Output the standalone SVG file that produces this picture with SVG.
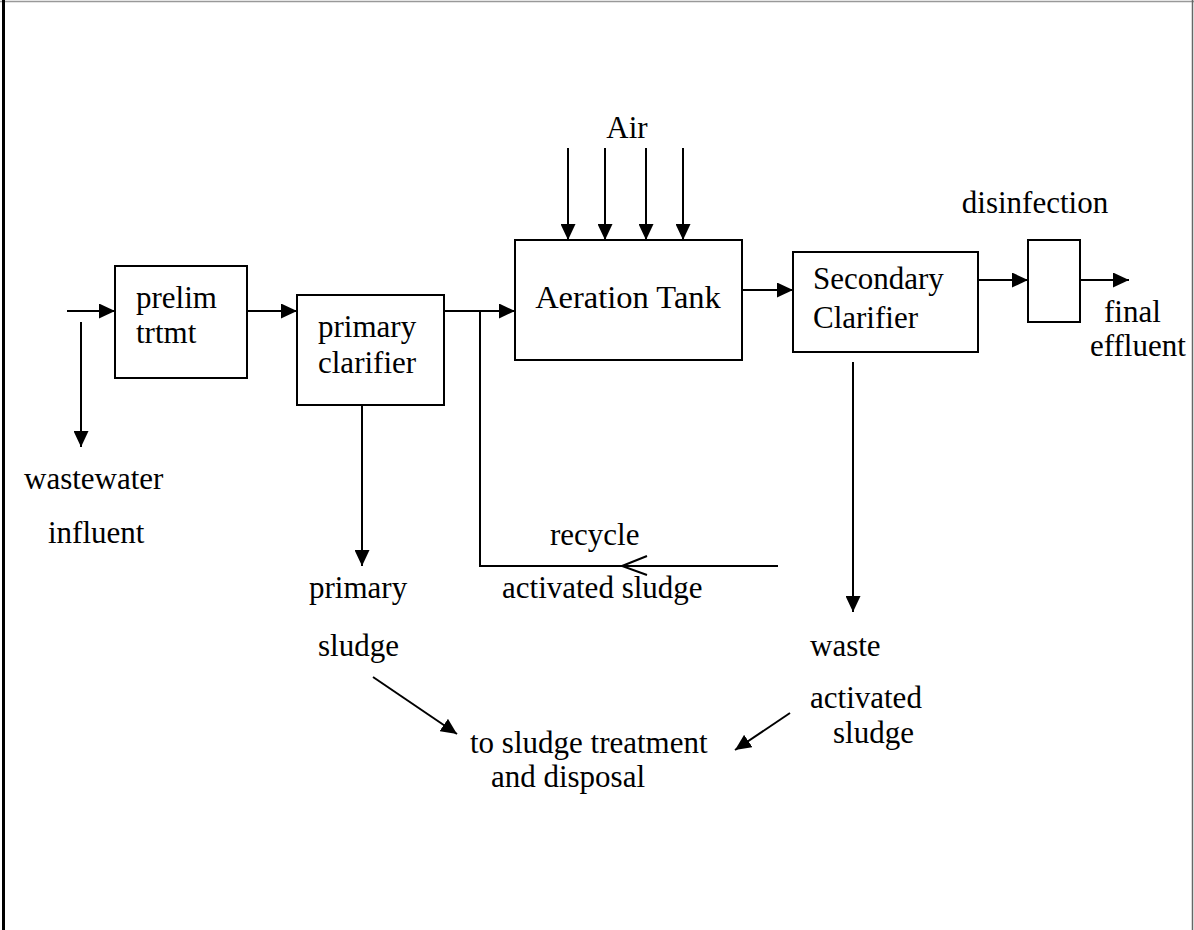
<svg xmlns="http://www.w3.org/2000/svg" width="1194" height="930" viewBox="0 0 1194 930">
<defs>
<marker id="ah" markerUnits="userSpaceOnUse" markerWidth="17" markerHeight="15" refX="16" refY="7.5" orient="auto"><path d="M0,0 L16,7.5 L0,15 Z" fill="#000"/></marker>
<style>
text{font-family:"Liberation Serif","Times New Roman",serif;font-size:31px;fill:#000}
.box{fill:#fff;stroke:#000;stroke-width:2}
.ln{fill:none;stroke:#000;stroke-width:2}
</style>
</defs>
<rect width="1194" height="930" fill="#fff"/>
<g id="frame">
<line x1="0" y1="1.5" x2="1194" y2="1.5" stroke="#999" stroke-width="1.5"/>
<line x1="3.5" y1="0" x2="3.5" y2="930" stroke="#000" stroke-width="3"/>
<line x1="1192.5" y1="0" x2="1192.5" y2="930" stroke="#666" stroke-width="1.5"/>
</g>
<g id="connectors">
<line class="ln" x1="67" y1="311" x2="115" y2="311" marker-end="url(#ah)" stroke-width="2.5"/>
<line class="ln" x1="81" y1="322" x2="81" y2="447" marker-end="url(#ah)"/>
<line class="ln" x1="247" y1="311" x2="297" y2="311" marker-end="url(#ah)"/>
<line class="ln" x1="444" y1="311" x2="515" y2="311" marker-end="url(#ah)"/>
<polyline class="ln" points="480,311 480,566 778,566"/>
<polyline class="ln" points="647,556 622,566 647,575"/>
<line class="ln" x1="568" y1="148" x2="568" y2="240" marker-end="url(#ah)"/>
<line class="ln" x1="605" y1="148" x2="605" y2="240" marker-end="url(#ah)"/>
<line class="ln" x1="646" y1="148" x2="646" y2="240" marker-end="url(#ah)"/>
<line class="ln" x1="683" y1="148" x2="683" y2="240" marker-end="url(#ah)"/>
<line class="ln" x1="742" y1="290" x2="793" y2="290" marker-end="url(#ah)"/>
<line class="ln" x1="978" y1="280" x2="1028" y2="280" marker-end="url(#ah)"/>
<line class="ln" x1="1080" y1="280" x2="1129" y2="280" marker-end="url(#ah)"/>
<line class="ln" x1="362" y1="405" x2="362" y2="566" marker-end="url(#ah)"/>
<line class="ln" x1="853" y1="362" x2="853" y2="612" marker-end="url(#ah)"/>
<line class="ln" x1="373" y1="677" x2="457" y2="734" marker-end="url(#ah)"/>
<line class="ln" x1="790" y1="713" x2="735" y2="750" marker-end="url(#ah)"/>
</g>
<g id="prelim"><rect class="box" x="115" y="266" width="132" height="112"/><text x="136" y="308">prelim</text><text x="136" y="343">trtmt</text></g>
<g id="primary"><rect class="box" x="297" y="295" width="147" height="110"/><text x="318" y="337">primary</text><text x="318" y="373">clarifier</text></g>
<g id="aeration"><rect class="box" x="515" y="240" width="227" height="120"/><text x="628" y="308" text-anchor="middle" style="font-size:32.5px">Aeration Tank</text></g>
<g id="air"><text x="627" y="138" text-anchor="middle">Air</text></g>
<g id="secondary"><rect class="box" x="793" y="252" width="185" height="100"/><text x="813" y="289">Secondary</text><text x="813" y="328">Clarifier</text></g>
<g id="disinfection"><rect class="box" x="1028" y="240" width="52" height="82"/><text x="1035" y="213" text-anchor="middle">disinfection</text></g>
<g id="labels">
<text x="1104" y="322">final</text>
<text x="1090" y="356">effluent</text>
<text x="24" y="489">wastewater</text>
<text x="48" y="543">influent</text>
<text x="550" y="545">recycle</text>
<text x="502" y="598">activated sludge</text>
<text x="309" y="598">primary</text>
<text x="318" y="656">sludge</text>
<text x="810" y="656">waste</text>
<text x="810" y="708">activated</text>
<text x="833" y="743">sludge</text>
<text x="470" y="753">to sludge treatment</text>
<text x="568" y="787" text-anchor="middle">and disposal</text>
</g>
</svg>
